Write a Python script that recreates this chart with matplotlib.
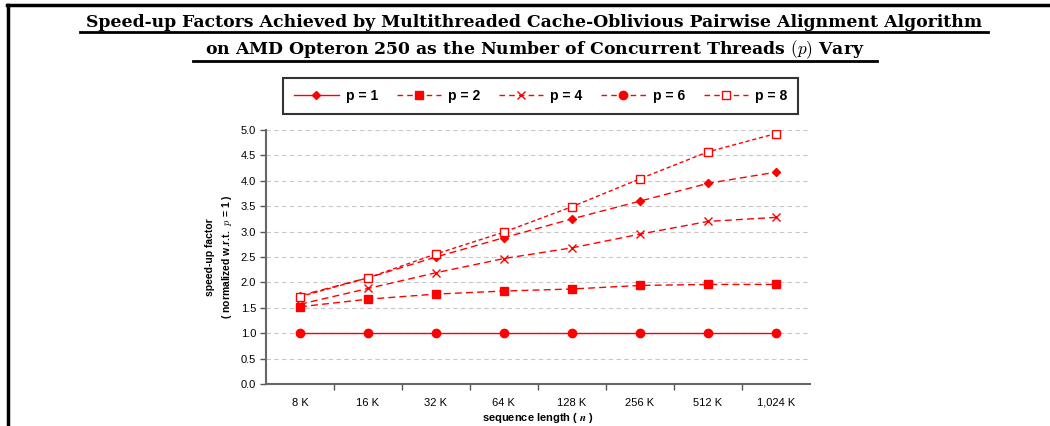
import matplotlib
matplotlib.use("Agg")
import matplotlib.pyplot as plt
from matplotlib.lines import Line2D

plt.rcParams['mathtext.fontset'] = 'cm'

# data
sizes = ["8 K", "16 K", "32 K", "64 K", "128 K", "256 K", "512 K", "1,024 K"]
p1 = [1.0, 1.0, 1.0, 1.0, 1.0, 1.0, 1.0, 1.0]
p2 = [1.52, 1.67, 1.77, 1.83, 1.87, 1.94, 1.96, 1.96]
p4 = [1.57, 1.88, 2.19, 2.47, 2.68, 2.95, 3.20, 3.28]
p6 = [1.74, 2.09, 2.50, 2.88, 3.25, 3.60, 3.95, 4.17]
p8 = [1.72, 2.09, 2.56, 2.99, 3.49, 4.04, 4.57, 4.93]
yticks = [0.0, 0.5, 1.0, 1.5, 2.0, 2.5, 3.0, 3.5, 4.0, 4.5, 5.0]

red = "#ff0000"
fig = plt.figure(figsize=(10.5, 4.26), dpi=100)

# frame lines (top and left)
fig.add_artist(Line2D([0.007, 1.0], [0.988, 0.988], color="black", lw=2.5))
fig.add_artist(Line2D([0.008, 0.008], [0.0, 0.988], color="black", lw=2.5))

# title with underlines
t1 = "Speed-up Factors Achieved by Multithreaded Cache-Oblivious Pairwise Alignment Algorithm"
t2 = r"on AMD Opteron 250 as the Number of Concurrent Threads $(p)$ Vary"
fig.text(0.509, 0.936, t1, ha="center", va="baseline", fontsize=12.4,
         family="DejaVu Serif", weight="bold")
fig.text(0.509, 0.873, t2, ha="center", va="baseline", fontsize=12.4,
         family="DejaVu Serif", weight="bold")
fig.add_artist(Line2D([0.076, 0.941], [0.924, 0.924], color="black", lw=2))
fig.add_artist(Line2D([0.184, 0.835], [0.857, 0.857], color="black", lw=2))

ax = fig.add_axes([0.2533, 0.0986, 0.518, 0.5962])
x = list(range(len(sizes)))
ax.plot(x, p1, color=red, lw=1, ls="-", marker="o", ms=6)
ax.plot(x, p2, color=red, lw=1, ls=(0, (5, 3)), marker="s", ms=6)
ax.plot(x, p4, color=red, lw=1, ls=(0, (5, 3)), marker="x", ms=6, mew=1)
ax.plot(x, p6, color=red, lw=1, ls=(0, (5, 3)), marker="D", ms=4)
ax.plot(x, p8, color=red, lw=1, ls=(0, (3, 2)), marker="s", ms=6,
        mfc="white", mew=1)

ax.set_xlim(-0.5, len(sizes) - 0.5)
ax.set_ylim(0, 5)
ax.set_yticks(yticks)
ax.set_yticklabels(["%.1f" % v for v in yticks], fontsize=8, family="Liberation Sans")
ax.set_xticks(x)
ax.set_xticklabels(sizes, fontsize=8, family="Liberation Sans")
ax.set_xticks([i + 0.5 for i in x[:-1]], minor=True)
ax.tick_params(axis="x", which="major", length=0, pad=10)
ax.tick_params(axis="x", which="minor", length=4, width=1, color="#555555", direction="out")
ax.tick_params(axis="y", length=4, width=1, color="#555555", pad=3)
ax.grid(axis="y", color="#c8c8c8", ls=(0, (4, 3)), lw=0.8)
ax.set_axisbelow(True)
for s in ["top", "right"]:
    ax.spines[s].set_visible(False)
for s in ["left", "bottom"]:
    ax.spines[s].set_color("#666666")
    ax.spines[s].set_linewidth(1.5)

ax.set_xlabel(r"sequence length ( $\boldsymbol{n}$ )", fontsize=8,
              family="Liberation Sans", weight="bold", labelpad=2)
ax.set_ylabel("speed-up factor\n( normalized w.r.t.  $p$ = 1 )", fontsize=7.5,
              family="Liberation Sans", weight="bold", labelpad=5, linespacing=1.5)

# legend as shown in the reference
handles = [
    Line2D([], [], color=red, lw=1, ls="-", marker="D", ms=4),
    Line2D([], [], color=red, lw=1, ls=(0, (4, 3)), marker="s", ms=6),
    Line2D([], [], color=red, lw=1, ls=(0, (4, 3)), marker="x", ms=6),
    Line2D([], [], color=red, lw=1, ls=(0, (4, 3)), marker="o", ms=6),
    Line2D([], [], color=red, lw=1, ls=(0, (4, 3)), marker="s", ms=6, mfc="white"),
]
labels = ["p = 1", "p = 2", "p = 4", "p = 6", "p = 8"]
leg = fig.legend(handles, labels, loc="center", bbox_to_anchor=(0.515, 0.775),
                 ncol=5, frameon=True, fancybox=False, handlelength=3.2,
                 columnspacing=1.35, handletextpad=0.5, borderpad=0.8,
                 prop={"family": "Liberation Sans", "weight": "bold", "size": 10})
leg.get_frame().set_edgecolor("black")
leg.get_frame().set_linewidth(1.5)

fig.savefig("out.png", dpi=100)
